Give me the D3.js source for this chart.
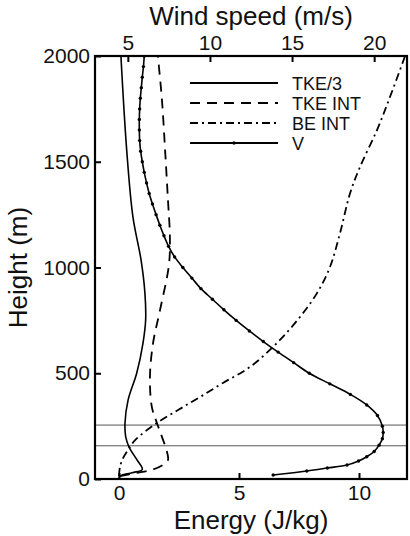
<!DOCTYPE html>
<html>
<head>
<meta charset="utf-8">
<script src="https://cdn.jsdelivr.net/npm/d3@7"></script>
<style>
  html, body { margin: 0; padding: 0; background: #fff; }
  svg text { font-family: "Liberation Sans", Arial, Helvetica, sans-serif; fill: #111; }
</style>
</head>
<body>
<svg id="chart" width="410" height="536"></svg>
<script>
// Axis ticks
const heightTicks = [0, 500, 1000, 1500, 2000];
const energyTicks = [0, 5, 10];
const windTicks = [5, 10, 15, 20];

// Boundary-layer reference heights (m)
const refHeights = [157, 255];

// TKE/3 profile: [height (m), energy (J/kg)]
const tke3 = [
  [5, 0.0], [15, 0.05], [30, 0.55], [45, 0.97], [90, 0.75], [151, 0.42],
  [199, 0.28], [265, 0.25], [374, 0.38], [501, 0.74], [643, 1.0],
  [752, 1.11], [879, 1.08], [1035, 0.92], [1239, 0.58], [1556, 0.32], [2000, 0.08]
];

// Integrated TKE profile: [height (m), energy (J/kg)]
const tkeInt = [
  [14, 0.04], [28, 0.67], [43, 1.37], [66, 1.83], [90, 2.04], [128, 2.0],
  [199, 1.79], [265, 1.58], [340, 1.37], [482, 1.29], [643, 1.42],
  [799, 1.71], [1012, 2.08], [1144, 2.12], [1319, 2.04], [1556, 1.92],
  [1792, 1.79], [2000, 1.62]
];

// Integrated buoyant energy profile: [height (m), energy (J/kg)]
const beInt = [
  [14, 0.0], [57, 0.04], [99, 0.17], [137, 0.375], [184, 0.67], [265, 1.58],
  [326, 2.46], [388, 3.38], [454, 4.33], [530, 5.46], [643, 6.58],
  [766, 7.54], [879, 8.25], [1002, 8.79], [1163, 9.21], [1352, 9.63],
  [1475, 10.04], [1650, 10.75], [1806, 11.29], [2000, 11.92]
];

// Wind speed profile: [height (m), speed (m/s)]
const windV = [
  [19, 13.85], [38, 15.90], [52, 17.15], [66, 18.35], [85, 19.05], [105, 19.55],
  [130, 20.00], [160, 20.30], [190, 20.50], [220, 20.55], [250, 20.50],
  [300, 20.20], [350, 19.55], [400, 18.55], [450, 17.30], [500, 16.05],
  [550, 15.10], [600, 14.15], [650, 13.25], [700, 12.40], [750, 11.60],
  [800, 10.85], [850, 10.15], [900, 9.45], [950, 8.90], [1000, 8.35],
  [1050, 7.85], [1100, 7.48], [1150, 7.20], [1200, 6.95], [1250, 6.72],
  [1300, 6.50], [1350, 6.30], [1400, 6.14], [1450, 6.00], [1500, 5.88],
  [1550, 5.78], [1600, 5.72], [1650, 5.70], [1700, 5.70], [1750, 5.72],
  [1800, 5.76], [1850, 5.82], [1900, 5.88], [1950, 5.95], [2000, 6.00]
];

const legendItems = [
  { label: "TKE/3", dash: null, dot: false },
  { label: "TKE INT", dash: "10,7", dot: false },
  { label: "BE INT", dash: "8,4,2,4", dot: false },
  { label: "V", dash: null, dot: true }
];

const svg = d3.select("#chart");
const plot = { left: 95, right: 407, top: 56, bottom: 479 };

const y = d3.scaleLinear().domain([0, 2000]).range([plot.bottom, plot.top]);
const xE = d3.scaleLinear().domain([-1, 12]).range([plot.left, plot.right]);
const xW = d3.scaleLinear().domain([3, 22]).range([plot.left, plot.right]);

svg.append("defs").append("clipPath").attr("id", "plotClip")
  .append("rect")
  .attr("x", plot.left).attr("y", plot.top - 1)
  .attr("width", plot.right - plot.left).attr("height", plot.bottom - plot.top + 1);

// Reference height lines
svg.append("g").selectAll("line").data(refHeights).join("line")
  .attr("x1", plot.left).attr("x2", plot.right)
  .attr("y1", d => y(d)).attr("y2", d => y(d))
  .attr("stroke", "#555").attr("stroke-width", 1);

const curves = svg.append("g").attr("clip-path", "url(#plotClip)");

function profile(xScale) {
  return d3.line()
    .x(d => xScale(d[1]))
    .y(d => y(d[0]))
    .curve(d3.curveCatmullRom.alpha(0.5));
}

curves.append("path").datum(tke3)
  .attr("d", profile(xE)).attr("fill", "none")
  .attr("stroke", "#000").attr("stroke-width", 1.6);

curves.append("path").datum(tkeInt)
  .attr("d", profile(xE)).attr("fill", "none")
  .attr("stroke", "#000").attr("stroke-width", 1.8)
  .attr("stroke-dasharray", "10,7");

curves.append("path").datum(beInt)
  .attr("d", profile(xE)).attr("fill", "none")
  .attr("stroke", "#000").attr("stroke-width", 1.8)
  .attr("stroke-dasharray", "8,4,2,4");

curves.append("path").datum(windV)
  .attr("d", profile(xW)).attr("fill", "none")
  .attr("stroke", "#000").attr("stroke-width", 1.6);

curves.append("g").selectAll("circle").data(windV).join("circle")
  .attr("cx", d => xW(d[1])).attr("cy", d => y(d[0]))
  .attr("r", 1.7).attr("fill", "#000");

// Axes with inward ticks
const tickLen = 6;
const fontTick = 21;
const intFmt = d3.format("d");

const leftAxis = d3.axisLeft(y).tickValues(heightTicks).tickFormat(intFmt)
  .tickSizeInner(-tickLen).tickSizeOuter(0).tickPadding(5);
const bottomAxis = d3.axisBottom(xE).tickValues(energyTicks).tickFormat(intFmt)
  .tickSizeInner(-tickLen).tickSizeOuter(0).tickPadding(6);
const topAxis = d3.axisTop(xW).tickValues(windTicks).tickFormat(intFmt)
  .tickSizeInner(-tickLen).tickSizeOuter(0).tickPadding(6);

function styleAxis(g) {
  g.select(".domain").remove();
  g.selectAll(".tick line").attr("stroke", "#000").attr("stroke-width", 2);
  g.selectAll(".tick text")
    .attr("font-size", fontTick)
    .attr("font-family", "'Liberation Sans', Arial, Helvetica, sans-serif")
    .attr("fill", "#111");
}

svg.append("g").attr("transform", `translate(${plot.left},0)`).call(leftAxis).call(styleAxis);
svg.append("g").attr("transform", `translate(0,${plot.bottom})`).call(bottomAxis).call(styleAxis);
svg.append("g").attr("transform", `translate(0,${plot.top})`).call(topAxis).call(styleAxis);

// Frame
svg.append("rect")
  .attr("x", plot.left).attr("y", plot.top)
  .attr("width", plot.right - plot.left).attr("height", plot.bottom - plot.top)
  .attr("fill", "none").attr("stroke", "#000").attr("stroke-width", 2.2);

// Axis titles
const midX = (plot.left + plot.right) / 2;
svg.append("text").attr("x", midX).attr("y", 25)
  .attr("text-anchor", "middle").attr("font-size", 26).text("Wind speed (m/s)");
svg.append("text").attr("x", midX).attr("y", 529)
  .attr("text-anchor", "middle").attr("font-size", 26).text("Energy (J/kg)");
svg.append("text")
  .attr("transform", `translate(27,${(plot.top + plot.bottom) / 2}) rotate(-90)`)
  .attr("text-anchor", "middle").attr("font-size", 26).text("Height (m)");

// Legend
const legend = svg.append("g");
const rowY = d3.scalePoint().domain(legendItems.map(d => d.label)).range([83, 143]);
const rows = legend.selectAll("g").data(legendItems).join("g")
  .attr("transform", d => `translate(0,${rowY(d.label)})`);
rows.append("line")
  .attr("x1", 190).attr("x2", 278).attr("y1", 0).attr("y2", 0)
  .attr("stroke", "#000").attr("stroke-width", 2.2)
  .attr("stroke-dasharray", d => d.dash);
rows.filter(d => d.dot).append("circle")
  .attr("cx", 234).attr("cy", 0).attr("r", 1.7).attr("fill", "#000");
rows.append("text")
  .attr("x", 292).attr("y", 6.5).attr("font-size", 18).text(d => d.label);
</script>
</body>
</html>
